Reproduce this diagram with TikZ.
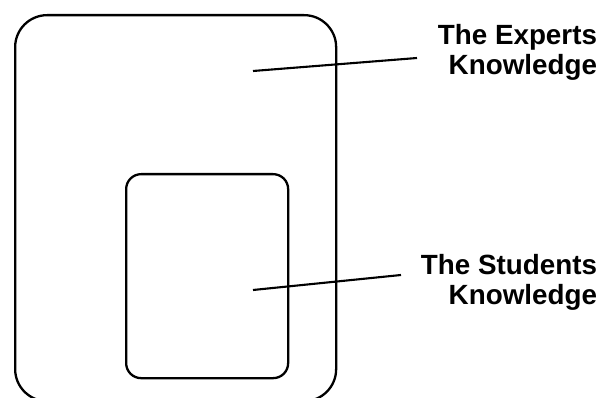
\documentclass[tikz,border=0pt]{standalone}
\usepackage{fontspec}
\setmainfont{Liberation Sans}
\begin{document}
\begin{tikzpicture}[x=1pt,y=-1pt,
  box/.style={draw,line width=2.3pt,inner sep=0pt,anchor=north west},
  lead/.style={line width=2.1pt},
  lbl/.style={align=right,anchor=north east,inner sep=0pt,outer sep=0pt,font=\fontsize{27.8}{30}\selectfont\bfseries}]
\useasboundingbox (0,0) rectangle (603,398);
\node[box,rounded corners=32pt,minimum width=321pt,minimum height=386pt] (outer) at (14,14) {};
\node[box,rounded corners=15pt,minimum width=162pt,minimum height=204pt] (inner) at (125,173) {};
\node[lbl] (experts) at (597,24) {The Experts\\Knowledge};
\node[lbl] (students) at (597,254) {The Students\\Knowledge};
\coordinate (e1) at (253,71);
\coordinate (e2) at (417,58);
\coordinate (s1) at (253,290);
\coordinate (s2) at (401,275);
\draw[lead] (e1) -- (e2);
\draw[lead] (s1) -- (s2);
\end{tikzpicture}
\end{document}
